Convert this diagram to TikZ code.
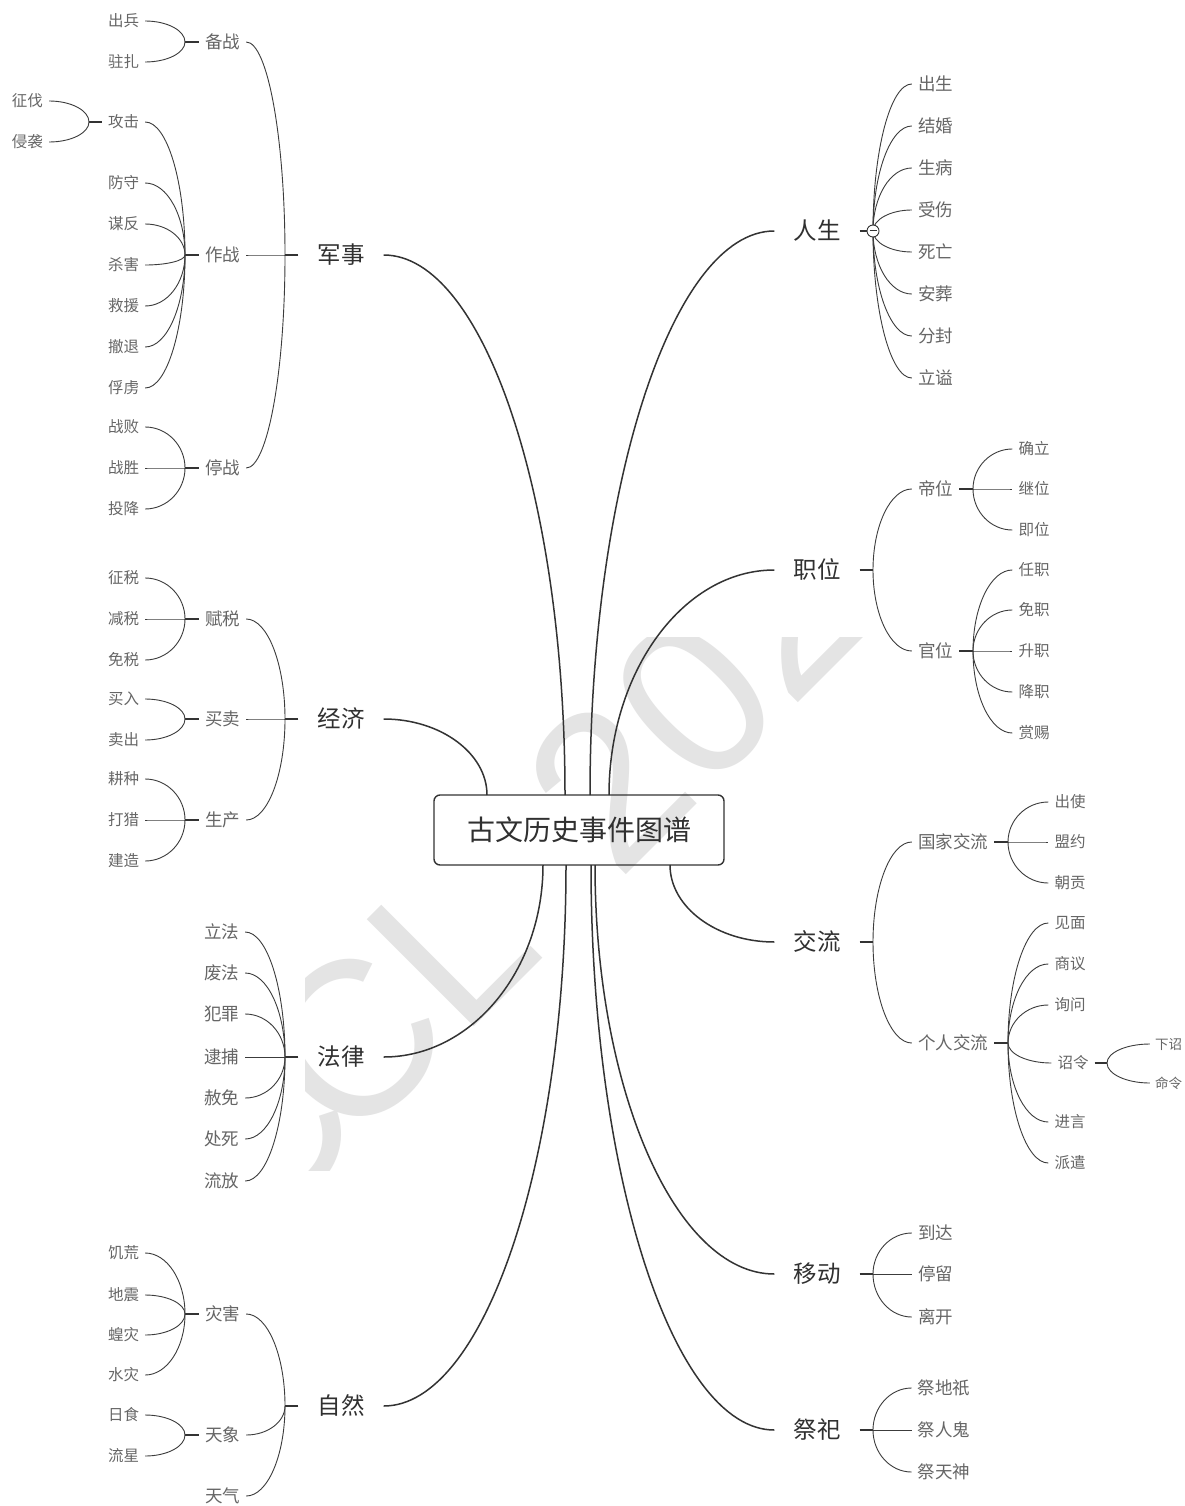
\documentclass[tikz,border=0pt]{standalone}
\usepackage{fontspec}
\setmainfont{Noto Sans CJK SC}
\newfontfamily\wmfont{Liberation Sans}
\usetikzlibrary{calc}
\definecolor{txtA}{HTML}{303030}
\definecolor{txtB}{HTML}{666666}
\definecolor{lineA}{HTML}{333333}
\definecolor{lineB}{HTML}{3C3C3C}
\definecolor{wm}{HTML}{E4E4E4}
\newcommand\mmcurve[3][subline]{\draw[#1] let \p1=(#2), \p2=(#3) in (\p1) .. controls (\x1,{\y1+0.55*(\y2-\y1)}) and ({\x2+0.55*(\x1-\x2)},\y2) .. (\p2);}
\tikzset{
 l1/.style={font=\fontsize{23.5}{28}\selectfont, text=txtA, inner xsep=19pt, inner ysep=0pt, text height=19.5pt, text depth=1.6pt},
 l2/.style={font=\fontsize{17.5}{21}\selectfont, text=txtB, inner xsep=6pt, inner ysep=0pt, text height=14.5pt, text depth=1.2pt},
 l3/.style={font=\fontsize{15.5}{19}\selectfont, text=txtB, inner xsep=6pt, inner ysep=0pt, text height=12.9pt, text depth=1.1pt},
 l4/.style={font=\fontsize{13.5}{16}\selectfont, text=txtB, inner xsep=5pt, inner ysep=0pt, text height=11.2pt, text depth=0.9pt},
 rootbox/.style={draw=lineA, line width=1.4pt, rounded corners=6pt, minimum width=290pt, minimum height=70pt, inner sep=0pt, font=\fontsize{28}{32}\selectfont, text=txtA, text height=23.2pt, text depth=2pt},
 mainline/.style={draw=lineA, line width=1.5pt},
 subline/.style={draw=lineB, line width=0.9pt},
 stub/.style={draw=lineA, line width=1.8pt},
 wmchar/.style={font=\wmfont\fontsize{220}{220}\selectfont, text=wm, anchor=base west, inner sep=0pt, rotate=45},
}
\begin{document}
\begin{tikzpicture}[x=1pt,y=-1pt]
\useasboundingbox (0,0) rectangle (1184,1506);
\fill[white] (0,0) rectangle (1184,1506);
% watermark
\begin{scope}
\clip (305,637) rectangle (1184,1170);
\node[wmchar] (wm0) at ({473+0.7071*(-305)},{1028-0.7071*(-305)}) {C};
\node[wmchar] (wm1) at ({473+0.7071*(-175)},{1028-0.7071*(-175)}) {C};
\node[wmchar] (wm2) at ({473+0.7071*(-16)},{1028-0.7071*(-16)}) {L};
\node[wmchar] (wm3) at ({473+0.7071*205},{1028-0.7071*205}) {2};
\node[wmchar] (wm4) at ({473+0.7071*327},{1028-0.7071*327}) {0};
\node[wmchar] (wm5) at ({473+0.7071*449},{1028-0.7071*449}) {2};
\node[wmchar] (wm6) at ({473+0.7071*571},{1028-0.7071*571}) {4};
\end{scope}
% root
\node[rootbox] (root) at (579,830) {古文历史事件图谱};
\coordinate (r-js) at (565,795);
\coordinate (r-jj) at (487,795);
\coordinate (r-rs) at (590,795);
\coordinate (r-zw) at (609,795);
\coordinate (r-fl) at (543,865);
\coordinate (r-zr) at (566,865);
\coordinate (r-jl) at (670,865);
\coordinate (r-yd) at (595,865);
\coordinate (r-jsi) at (591,865);
% ---------- left: 军事
\node[l1] (js) at (341,255) {军事};
\coordinate (js-j) at (285,255);
\node[l2] (bz) at (222.5,42) {备战}; \coordinate (bz-j) at (185,42);
\node[l3] (cb) at (123.5,21) {出兵};
\node[l3] (zz) at (123.5,62) {驻扎};
\node[l2] (zzh) at (222.5,255) {作战}; \coordinate (zzh-j) at (185,255);
\node[l3] (gj) at (123.5,122) {攻击}; \coordinate (gj-j) at (89,122);
\node[l3] (zf) at (27.5,101) {征伐};
\node[l3] (qx) at (27.5,142) {侵袭};
\node[l3] (fs) at (123.5,183) {防守};
\node[l3] (mf) at (123.5,224) {谋反};
\node[l3] (sh) at (123.5,265) {杀害};
\node[l3] (jy) at (123.5,306) {救援};
\node[l3] (ct) at (123.5,347) {撤退};
\node[l3] (flu) at (123.5,388) {俘虏};
\node[l2] (tz) at (222.5,468) {停战}; \coordinate (tz-j) at (185,468);
\node[l3] (zb) at (123.5,427) {战败};
\node[l3] (zs) at (123.5,468) {战胜};
\node[l3] (tx) at (123.5,509) {投降};
\mmcurve[mainline]{r-js}{js.east}
\draw[stub] (js.west) -- (js-j);
\foreach \c in {bz,zzh,tz} {\mmcurve{js-j}{\c.east}}
\draw[stub] (bz.west) -- (bz-j);
\foreach \c in {cb,zz} {\mmcurve{bz-j}{\c.east}}
\draw[stub] (zzh.west) -- (zzh-j);
\foreach \c in {gj,fs,mf,sh,jy,ct,flu} {\mmcurve{zzh-j}{\c.east}}
\draw[stub] (gj.west) -- (gj-j);
\foreach \c in {zf,qx} {\mmcurve{gj-j}{\c.east}}
\draw[stub] (tz.west) -- (tz-j);
\foreach \c in {zb,zs,tx} {\mmcurve{tz-j}{\c.east}}
% ---------- left: 经济
\node[l1] (jj) at (341,719) {经济};
\coordinate (jj-j) at (285,719);
\node[l2] (fsh) at (222.5,619) {赋税}; \coordinate (fsh-j) at (185,619);
\node[l3] (zsh) at (123.5,578) {征税};
\node[l3] (jsh) at (123.5,619) {减税};
\node[l3] (msh) at (123.5,660) {免税};
\node[l2] (mm) at (222.5,719) {买卖}; \coordinate (mm-j) at (185,719);
\node[l3] (mr) at (123.5,699) {买入};
\node[l3] (mc) at (123.5,740) {卖出};
\node[l2] (sch) at (222.5,820) {生产}; \coordinate (sch-j) at (185,820);
\node[l3] (gz) at (123.5,779) {耕种};
\node[l3] (dl) at (123.5,820) {打猎};
\node[l3] (jzao) at (123.5,861) {建造};
\mmcurve[mainline]{r-jj}{jj.east}
\draw[stub] (jj.west) -- (jj-j);
\foreach \c in {fsh,mm,sch} {\mmcurve{jj-j}{\c.east}}
\draw[stub] (fsh.west) -- (fsh-j);
\foreach \c in {zsh,jsh,msh} {\mmcurve{fsh-j}{\c.east}}
\draw[stub] (mm.west) -- (mm-j);
\foreach \c in {mr,mc} {\mmcurve{mm-j}{\c.east}}
\draw[stub] (sch.west) -- (sch-j);
\foreach \c in {gz,dl,jzao} {\mmcurve{sch-j}{\c.east}}
% ---------- left: 法律
\node[l1] (fl) at (341,1057) {法律};
\coordinate (fl-j) at (285,1057);
\node[l2] (lf) at (221.5,932) {立法};
\node[l2] (ff) at (221.5,973) {废法};
\node[l2] (fz) at (221.5,1014) {犯罪};
\node[l2] (db) at (221.5,1057) {逮捕};
\node[l2] (sm) at (221.5,1098) {赦免};
\node[l2] (csi) at (221.5,1139) {处死};
\node[l2] (lfa) at (221.5,1181) {流放};
\mmcurve[mainline]{r-fl}{fl.east}
\draw[stub] (fl.west) -- (fl-j);
\foreach \c in {lf,ff,fz,db,sm,csi,lfa} {\mmcurve{fl-j}{\c.east}}
% ---------- left: 自然
\node[l1] (zr) at (341,1406) {自然};
\coordinate (zr-j) at (285,1406);
\node[l2] (zh) at (222.5,1314) {灾害}; \coordinate (zh-j) at (185,1314);
\node[l3] (jhu) at (123.5,1253) {饥荒};
\node[l3] (dz) at (123.5,1295) {地震};
\node[l3] (hz) at (123.5,1335) {蝗灾};
\node[l3] (sz) at (123.5,1375) {水灾};
\node[l2] (txi) at (222.5,1435) {天象}; \coordinate (txi-j) at (185,1435);
\node[l3] (rsh) at (123.5,1415) {日食};
\node[l3] (lx) at (123.5,1456) {流星};
\node[l2] (tq) at (222.5,1496) {天气};
\mmcurve[mainline]{r-zr}{zr.east}
\draw[stub] (zr.west) -- (zr-j);
\foreach \c in {zh,txi,tq} {\mmcurve{zr-j}{\c.east}}
\draw[stub] (zh.west) -- (zh-j);
\foreach \c in {jhu,dz,hz,sz} {\mmcurve{zh-j}{\c.east}}
\draw[stub] (txi.west) -- (txi-j);
\foreach \c in {rsh,lx} {\mmcurve{txi-j}{\c.east}}
% ---------- right: 人生
\node[l1] (rs) at (817,231) {人生};
\coordinate (rs-j) at (873,231);
\node[l2] (csg) at (935.5,84) {出生};
\node[l2] (jh) at (935.5,126) {结婚};
\node[l2] (sb) at (935.5,168) {生病};
\node[l2] (ssh) at (935.5,210) {受伤};
\node[l2] (sw) at (935.5,252) {死亡};
\node[l2] (az) at (935.5,294) {安葬};
\node[l2] (ffe) at (935.5,336) {分封};
\node[l2] (lsh) at (935.5,378) {立谥};
\mmcurve[mainline]{r-rs}{rs.west}
\draw[stub] (rs.east) -- (rs-j);
\foreach \c in {csg,jh,sb,ssh,sw,az,ffe,lsh} {\mmcurve{rs-j}{\c.west}}
\node[circle, draw=lineA, line width=0.9pt, fill=white, minimum size=12pt, inner sep=0pt] (rsbtn) at (rs-j) {};
\draw[lineA, line width=1pt] ($(rsbtn.center)+(-3.5,0)$) -- ($(rsbtn.center)+(3.5,0)$);
% ---------- right: 职位
\node[l1] (zw) at (817,570) {职位};
\coordinate (zw-j) at (873,570);
\node[l2] (dw) at (935.5,489) {帝位}; \coordinate (dw-j) at (973,489);
\node[l3] (qd) at (1034,449) {确立};
\node[l3] (jw) at (1034,489) {继位};
\node[l3] (jiw) at (1034,530) {即位};
\node[l2] (gw) at (935.5,651) {官位}; \coordinate (gw-j) at (973,651);
\node[l3] (rz) at (1034,570) {任职};
\node[l3] (mz) at (1034,610) {免职};
\node[l3] (szh) at (1034,651) {升职};
\node[l3] (jz) at (1034,692) {降职};
\node[l3] (sci) at (1034,733) {赏赐};
\mmcurve[mainline]{r-zw}{zw.west}
\draw[stub] (zw.east) -- (zw-j);
\foreach \c in {dw,gw} {\mmcurve{zw-j}{\c.west}}
\draw[stub] (dw.east) -- (dw-j);
\foreach \c in {qd,jw,jiw} {\mmcurve{dw-j}{\c.west}}
\draw[stub] (gw.east) -- (gw-j);
\foreach \c in {rz,mz,szh,jz,sci} {\mmcurve{gw-j}{\c.west}}
% ---------- right: 交流
\node[l1] (jl) at (817,942) {交流};
\coordinate (jl-j) at (873,942);
\node[l2] (gjjl) at (953,842) {国家交流}; \coordinate (gjjl-j) at (1008,842);
\node[l3] (csh) at (1070,802) {出使};
\node[l3] (my) at (1070,842) {盟约};
\node[l3] (cg) at (1070,883) {朝贡};
\node[l2] (grjl) at (953,1043) {个人交流}; \coordinate (grjl-j) at (1008,1043);
\node[l3] (jm) at (1070,923) {见面};
\node[l3] (sy) at (1070,964) {商议};
\node[l3] (xw) at (1070,1005) {询问};
\node[l3] (zl) at (1073,1063) {诏令}; \coordinate (zl-j) at (1107,1063);
\node[l3] (jyan) at (1070,1122) {进言};
\node[l3] (pq) at (1070,1163) {派遣};
\node[l4] (xz) at (1168.5,1044) {下诏};
\node[l4] (ml) at (1168.5,1083) {命令};
\mmcurve[mainline]{r-jl}{jl.west}
\draw[stub] (jl.east) -- (jl-j);
\foreach \c in {gjjl,grjl} {\mmcurve{jl-j}{\c.west}}
\draw[stub] (gjjl.east) -- (gjjl-j);
\foreach \c in {csh,my,cg} {\mmcurve{gjjl-j}{\c.west}}
\draw[stub] (grjl.east) -- (grjl-j);
\foreach \c in {jm,sy,xw,zl,jyan,pq} {\mmcurve{grjl-j}{\c.west}}
\draw[stub] (zl.east) -- (zl-j);
\foreach \c in {xz,ml} {\mmcurve{zl-j}{\c.west}}
% ---------- right: 移动
\node[l1] (yd) at (817,1274) {移动};
\coordinate (yd-j) at (873,1274);
\node[l2] (dd) at (935.5,1233) {到达};
\node[l2] (tl) at (935.5,1274) {停留};
\node[l2] (lk) at (935.5,1317) {离开};
\mmcurve[mainline]{r-yd}{yd.west}
\draw[stub] (yd.east) -- (yd-j);
\foreach \c in {dd,tl,lk} {\mmcurve{yd-j}{\c.west}}
% ---------- right: 祭祀
\node[l1] (jsi) at (817,1430) {祭祀};
\coordinate (jsi-j) at (873,1430);
\node[l2] (jdq) at (944,1388) {祭地祇};
\node[l2] (jrg) at (944,1430) {祭人鬼};
\node[l2] (jts) at (944,1472) {祭天神};
\mmcurve[mainline]{r-jsi}{jsi.west}
\draw[stub] (jsi.east) -- (jsi-j);
\foreach \c in {jdq,jrg,jts} {\mmcurve{jsi-j}{\c.west}}
\end{tikzpicture}
\end{document}
